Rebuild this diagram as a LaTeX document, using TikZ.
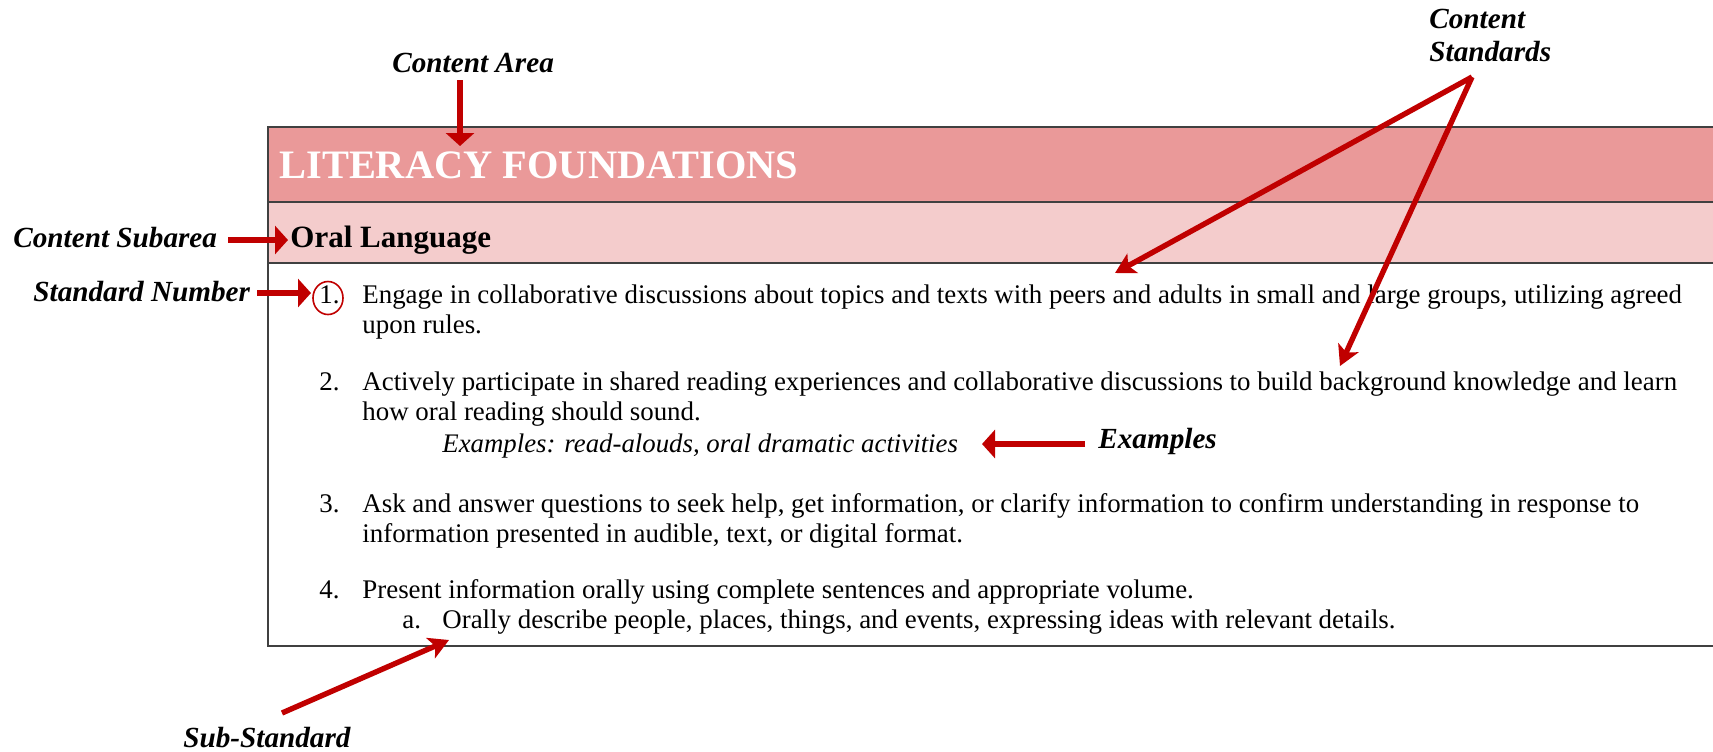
\documentclass[tikz,border=0pt]{standalone}
\usepackage{fontspec}
\setmainfont{Liberation Serif}
\usetikzlibrary{arrows.meta,shapes.geometric}
\definecolor{arrowred}{HTML}{C00000}
\definecolor{hdrfill}{HTML}{EA9999}
\definecolor{subfill}{HTML}{F4CCCC}
\definecolor{rulegray}{HTML}{404040}
\tikzset{
  lbl/.style={font=\bfseries\itshape\fontsize{14.6}{16.5}\selectfont, inner sep=0pt, anchor=base west},
  bodytext/.style={font=\fontsize{13.45}{15}\selectfont, inner sep=0pt, anchor=base west},
  exampletext/.style={font=\itshape\fontsize{13.4}{15}\selectfont, inner sep=0pt, anchor=base west},
  redarrow/.style={draw=arrowred, line width=2.9pt, -{Triangle[length=6.5pt,width=14pt]}},
  slantarrow/.style={draw=arrowred, line width=2.7pt, -{Stealth[length=10pt,width=11pt,inset=2.5pt]}},
  boxrule/.style={draw=rulegray, line width=0.8pt},
}
\begin{document}
\begin{tikzpicture}[x=0.5pt,y=-0.5pt]
\useasboundingbox (0,0) rectangle (1713,751);
% table box
\fill[hdrfill] (268,127) rectangle (1716,202);
\fill[subfill] (268,202) rectangle (1716,263);
\draw[boxrule] (1716,127) -- (268,127) -- (268,646) -- (1716,646);
\draw[boxrule] (268,202) -- (1716,202);
\draw[boxrule] (268,263) -- (1716,263);
% headings
\node[inner sep=0pt, anchor=base west, text=white, font=\bfseries\fontsize{20.2}{24}\selectfont] (area) at (279,178) {LITERACY FOUNDATIONS};
\node[inner sep=0pt, anchor=base west, font=\bfseries\fontsize{15.5}{18}\selectfont] (subarea) at (290,247) {Oral Language};
% standards
\node[bodytext] (n1) at (319,303) {1.};
\node[bodytext] (s1a) at (362,303) {Engage in collaborative discussions about topics and texts with peers and adults in small and large groups, utilizing agreed};
\node[bodytext] (s1b) at (362,333) {upon rules.};
\node[bodytext] (n2) at (319,390) {2.};
\node[bodytext] (s2a) at (362,390) {Actively participate in shared reading experiences and collaborative discussions to build background knowledge and learn};
\node[bodytext] (s2b) at (362,420) {how oral reading should sound.};
\node[exampletext] (ex) at (442,452) {Examples: read-alouds, oral dramatic activities};
\node[bodytext] (n3) at (319,512) {3.};
\node[bodytext] (s3a) at (362,512) {Ask and answer questions to seek help, get information, or clarify information to confirm understanding in response to};
\node[bodytext] (s3b) at (362,542) {information presented in audible, text, or digital format.};
\node[bodytext] (n4) at (319,598) {4.};
\node[bodytext] (s4a) at (362,598) {Present information orally using complete sentences and appropriate volume.};
\node[bodytext] (na) at (402,628) {a.};
\node[bodytext] (s4b) at (442,628) {Orally describe people, places, things, and events, expressing ideas with relevant details.};
% circle round the standard number
\node[draw=arrowred, line width=0.8pt, ellipse, minimum width=15pt, minimum height=16.5pt, inner sep=0pt] (circ) at (328,298) {};
% labels
\node[lbl] (lca) at (392,72) {Content Area};
\node[lbl] (lcs) at (13,247) {Content Subarea};
\node[lbl] (lsn) at (33,301) {Standard Number};
\node[lbl, align=left, anchor=north west] (lcst) at (1429,9) {Content\\Standards};
\node[lbl] (lex) at (1098,448) {Examples};
\node[lbl] (lss) at (183,747) {Sub-Standard};
% arrow end points
\coordinate (caT) at (460,80);   \coordinate (caH) at (460,146);
\coordinate (csT) at (228,240);  \coordinate (csH) at (288,240);
\coordinate (snT) at (257,293);  \coordinate (snH) at (311,293);
\coordinate (stT) at (1472,77);  \coordinate (st1H) at (1115,273); \coordinate (st2H) at (1340,366);
\coordinate (exT) at (1085,444); \coordinate (exH) at (982,444);
\coordinate (ssT) at (282,713);  \coordinate (ssH) at (449,640);
% arrows
\draw[redarrow] (caT) -- (caH);
\draw[redarrow] (csT) -- (csH);
\draw[redarrow] (snT) -- (snH);
\draw[slantarrow] (stT) -- (st1H);
\draw[slantarrow] (stT) -- (st2H);
\draw[redarrow] (exT) -- (exH);
\draw[slantarrow] (ssT) -- (ssH);
\end{tikzpicture}
\end{document}
